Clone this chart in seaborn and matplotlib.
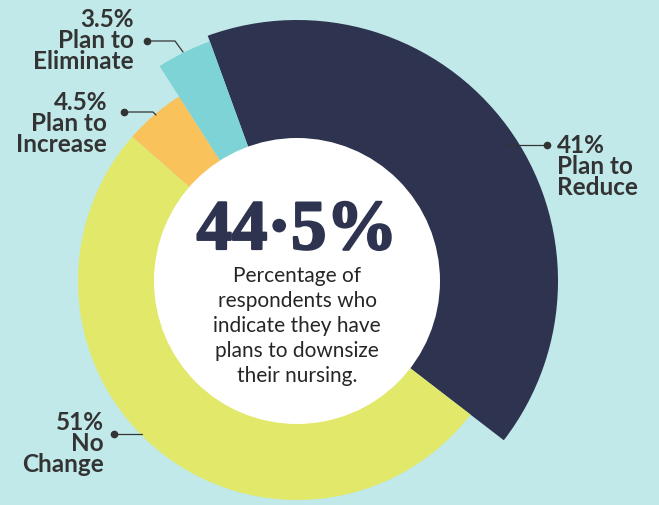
import matplotlib
matplotlib.use("Agg")
import matplotlib.pyplot as plt
import matplotlib.patheffects as pe
from matplotlib.patches import Circle
import seaborn as sns

# data
labels = ["Plan to Reduce", "No Change", "Plan to Increase", "Plan to Eliminate"]
shares = [41, 51, 4.5, 3.5]
headline = "44·5%"
caption = ["Percentage of", "respondents who", "indicate they have",
           "plans to downsize", "their nursing."]

# style
bg = "#c1e9ea"
colors = ["#2e3350", "#e1e86a", "#f9c25b", "#7dd3d5"]
outer = [261, 219, 219, 255]   # each slice has its own radius
hole = 143
ink = "#333333"

sns.set_theme(style="white", rc={"figure.facecolor": bg, "axes.facecolor": bg})
plt.rcParams["font.family"] = ["Lato", "DejaVu Sans"]

W, H = 659, 506
cx, cy = 297, 282   # centre of the donut in pixels (from top-left)

def px(x, y):
    return x - cx, cy - y

fig = plt.figure(figsize=(W / 100, H / 100), dpi=100)
ax = fig.add_axes([0, 0, 1, 1])

wedges, _ = ax.pie(shares, colors=colors, startangle=110, counterclock=False,
                   radius=1, wedgeprops=dict(linewidth=0))
for w, r in zip(wedges, outer):
    w.set_radius(r)
ax.add_patch(Circle((0, 0), hole, color="white", zorder=3, lw=0))

# centre text
ax.text(*px(cx, 250), headline, ha="center", va="baseline", zorder=4,
        family=["Liberation Serif", "DejaVu Serif"], fontweight="bold",
        fontsize=51, color=colors[0],
        path_effects=[pe.withStroke(linewidth=1.6, foreground=colors[0])])
for i, line in enumerate(caption):
    ax.text(*px(cx, 282 + 25 * i), line, ha="center", va="baseline", zorder=4,
            fontsize=15, fontweight="normal", color="#262626")

# side labels
def label(lines, x, y0, ha):
    for i, s in enumerate(lines):
        ax.text(*px(x, y0 + 21 * i), s, ha=ha, va="baseline", fontsize=17.5,
                fontweight="bold", color=ink, zorder=5)

def leader(xs, ys):
    pts = [px(a, b) for a, b in zip(xs, ys)]
    ax.plot([p[0] for p in pts], [p[1] for p in pts], color=ink, lw=0.9, zorder=2)
    ax.plot(*pts[0], "o", color=ink, ms=4.5, zorder=2)

label([f"{shares[0]:g}%", "Plan to", "Reduce"], 557, 153, "left")
leader([547, 506], [146, 146])

label([f"{shares[3]:g}%", "Plan to", "Eliminate"], 134, 27, "right")
leader([147, 175, 183], [42, 42, 53])

label([f"{shares[2]:g}%", "Plan to", "Increase"], 107, 110, "right")
leader([124, 153, 156], [113, 113, 116])

label([f"{shares[1]:g}%", "No", "Change"], 104, 430, "right")
leader([114, 142], [435, 435])

ax.set_xlim(-cx, W - cx)
ax.set_ylim(cy - H, cy)
ax.set_aspect("auto")
ax.axis("off")

fig.savefig("out.png", dpi=100, facecolor=bg)
